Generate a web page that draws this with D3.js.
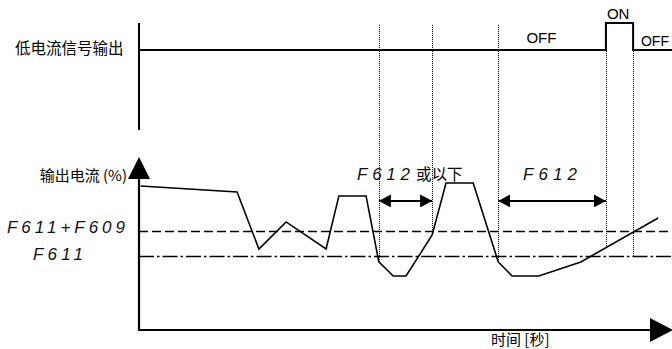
<!DOCTYPE html>
<html><head><meta charset="utf-8">
<script src="https://cdn.jsdelivr.net/npm/d3@7"></script>
<style>
html,body{margin:0;padding:0;background:#fff;}
svg{display:block;}
text{font-family:"Liberation Sans","Noto Sans CJK SC",sans-serif;fill:#000;}
.cjk{font-family:"Noto Sans CJK SC","Liberation Sans",sans-serif;}
.seg{font-family:"Liberation Sans",sans-serif;font-style:italic;fill:#111;}
</style></head>
<body>
<script>
// ---- data ----
const timeCurrent = [0.3, 18.4, 22.5, 27.6, 35.1, 37.5, 42.6, 45.0, 47.7, 50.1, 55.0, 57.6, 62.7, 67.4, 70.0, 75.0, 82.9, 97.4];
const currentPct  = [98.0, 93.9, 55.1, 73.5, 55.1, 91.2, 91.2, 46.3, 36.7, 36.7, 64.6, 100, 100, 46.3, 36.7, 36.7, 46.3, 76.2];
const signalTime  = [0, 87.6, 87.6, 92.7, 92.7, 100];
const signalState = [0, 0, 1, 1, 0, 0];
const thresholdNames  = ["F611+F609", "F611"];
const thresholdValues = [67, 50];
const markerTimes  = [45.0, 55.0, 67.4, 87.6, 92.7];
const markerEndPct = [46.3, 64.6, 46.3, 55.8, 50];
const markerTopState = [0.93, 0.93, 0.93, 1, 1];
const intervalStart = [45.0, 67.4];
const intervalEnd   = [55.0, 87.6];
const intervalLabelA = ["F612", "F612"];
const intervalLabelB = ["或以下", ""];
const intervalPct = 87.8;
const stateLabels = ["OFF", "ON", "OFF"];
const stateLabelTime = [75.5, 89.9, 96.8];

const W = 672, H = 349;
const svg = d3.select("body").append("svg").attr("width", W).attr("height", H);

const x = d3.scaleLinear().domain([0, 100]).range([139, 672]);
const y = d3.scaleLinear().domain([0, 100]).range([330, 183]);
const ys = d3.scaleLinear().domain([0, 1]).range([50, 23]);

const defs = svg.append("defs");
defs.append("marker").attr("id","arr").attr("viewBox","0 0 12 13")
  .attr("refX",12).attr("refY",6.5).attr("markerWidth",12).attr("markerHeight",13)
  .attr("markerUnits","userSpaceOnUse").attr("orient","auto-start-reverse")
  .append("path").attr("d","M0,0L12,6.5L0,13Z").attr("fill","#000");

// ---- upper panel ----
svg.append("line").attr("x1", x(0)).attr("x2", x(0)).attr("y1", ys(1)).attr("y2", 130)
  .attr("stroke","#000").attr("stroke-width",2);
svg.append("text").attr("class","cjk").attr("x",15).attr("y",54).attr("font-size",15.5)
  .text("低电流信号输出");

// dotted markers
svg.selectAll(".mk").data(markerTimes).join("line").attr("class","mk")
  .attr("x1", d => Math.round(x(d)) + 0.5).attr("x2", d => Math.round(x(d)) + 0.5)
  .attr("y1", (d,i) => ys(markerTopState[i])).attr("y2", (d,i) => y(markerEndPct[i]))
  .attr("stroke","#000").attr("stroke-width",1).attr("stroke-dasharray","1,1")
  .attr("shape-rendering","crispEdges");

const sig = signalTime.map((t,i) => [t, signalState[i]]);
svg.append("path").attr("d", d3.line().x(d => x(d[0])).y(d => ys(d[1]))(sig))
  .attr("fill","none").attr("stroke","#000").attr("stroke-width",2);

svg.selectAll(".st").data(stateLabels).join("text").attr("class","st")
  .attr("x", (d,i) => x(stateLabelTime[i])).attr("text-anchor","middle")
  .attr("y", (d,i) => [43,19,46][i]).attr("font-size",(d,i)=> i===2 ? 14 : 15).text(d => d);

// ---- lower panel ----
thresholdValues.forEach((v,i) => {
  svg.append("line").attr("x1", x(0)).attr("x2", W).attr("y1", y(v)).attr("y2", y(v))
    .attr("stroke","#000").attr("stroke-width",1.6)
    .attr("stroke-dasharray", i === 0 ? "9,4" : "15,3,2.5,3");
});
svg.selectAll(".thl").data(thresholdNames).join("text").attr("class","thl seg")
  .attr("x", (d,i) => i === 0 ? 7 : 33).attr("y", (d,i) => y(thresholdValues[i]) + [1,3][i])
  .attr("font-size",17).attr("textLength",(d,i)=> i===0 ? 118 : 50)
  .attr("lengthAdjust","spacing").text(d => d);

const cur = timeCurrent.map((t,i) => [t, currentPct[i]]);
svg.append("path").attr("d", d3.line().x(d => x(d[0])).y(d => y(d[1]))(cur))
  .attr("fill","none").attr("stroke","#000").attr("stroke-width",1.6);

// axes
svg.append("line").attr("x1", x(0)).attr("x2", x(0)).attr("y1", 178).attr("y2", y(0) + 1)
  .attr("stroke","#000").attr("stroke-width",2.2);
svg.append("path").attr("d", `M${x(0)},157L${x(0)-11},179L${x(0)+11},179Z`).attr("fill","#000");
svg.append("line").attr("x1", x(0) - 1).attr("x2", 651).attr("y1", y(0)).attr("y2", y(0))
  .attr("stroke","#000").attr("stroke-width",2.2);
svg.append("path").attr("d", `M650,${y(0)-12}L673,${y(0)}L650,${y(0)+12}Z`).attr("fill","#000");

svg.append("text").attr("class","cjk").attr("x",127).attr("y",181).attr("text-anchor","end")
  .attr("font-size",15).text("输出电流 (%)");
svg.append("text").attr("class","cjk").attr("x",491).attr("y",345)
  .attr("font-size",15).text("时间 [秒]");

// interval arrows
intervalStart.forEach((s,i) => {
  svg.append("line").attr("x1", x(s)).attr("x2", x(intervalEnd[i]))
    .attr("y1", y(intervalPct)).attr("y2", y(intervalPct))
    .attr("stroke","#000").attr("stroke-width",2)
    .attr("marker-start","url(#arr)").attr("marker-end","url(#arr)");
});
svg.append("text").attr("class","seg").attr("x",357).attr("y",180).attr("font-size",17)
  .attr("textLength",53).attr("lengthAdjust","spacing").text(intervalLabelA[0]);
svg.append("text").attr("class","cjk").attr("x",416).attr("y",180).attr("font-size",15.5)
  .text(intervalLabelB[0]);
svg.append("text").attr("class","seg").attr("x",523).attr("y",180).attr("font-size",17)
  .attr("textLength",54).attr("lengthAdjust","spacing").text(intervalLabelA[1]);
</script>
</body></html>
